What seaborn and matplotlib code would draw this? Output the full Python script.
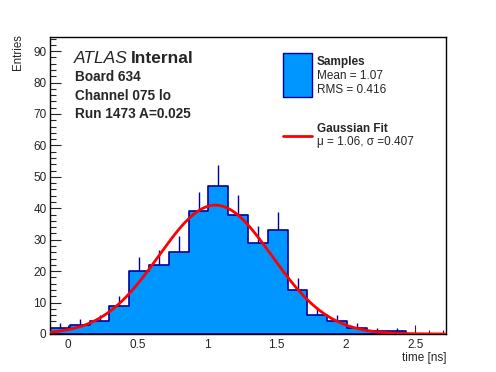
import numpy as np
import pandas as pd
import matplotlib
matplotlib.use('Agg')
import matplotlib.pyplot as plt
import seaborn as sns
from matplotlib.patches import Rectangle
from matplotlib.lines import Line2D
from matplotlib.ticker import MultipleLocator

sns.set_style('ticks')
plt.rcParams['font.family'] = ['Liberation Sans', 'DejaVu Sans']

# histogram: 20 bins between -0.13 and 2.72 ns
x_lo, x_hi, n_bins = -0.13, 2.72, 20
counts = [2, 3, 4, 9, 20, 22, 26, 39, 47, 38, 29, 33, 14, 6, 4, 2, 1, 1, 0, 0]
# gaussian fit parameters
fit_amp = 41.0
fit_mu = 1.06
fit_sigma = 0.407

fill_col = '#0096ff'
edge_col = '#000099'

W, H = 496, 372
fig = plt.figure(figsize=(W / 100, H / 100), dpi=100)
ax = fig.add_axes([50 / W, 1 - 334 / H, 396 / W, 297 / H])

bin_edges = np.linspace(x_lo, x_hi, n_bins + 1)
centers = 0.5 * (bin_edges[:-1] + bin_edges[1:])
counts = np.array(counts, dtype=float)
df = pd.DataFrame({'time': centers, 'n': counts})

# poisson errors, drawn under the filled histogram like ROOT "E" + "HIST"
err = np.sqrt(counts)
nz = counts > 0
ax.vlines(centers[nz], (counts - err)[nz], (counts + err)[nz], color=edge_col, lw=1.0, zorder=1)

sns.histplot(data=df, x='time', weights='n', bins=n_bins, binrange=(x_lo, x_hi),
             element='step', fill=True, color=fill_col, edgecolor=edge_col, alpha=1,
             linewidth=1.2, ax=ax, zorder=2)

xs = np.linspace(x_lo, x_hi, 400)
ys = fit_amp * np.exp(-0.5 * ((xs - fit_mu) / fit_sigma) ** 2)
sns.lineplot(x=xs, y=ys, color='red', linewidth=2, ax=ax, zorder=3)

ax.set_xlim(x_lo, x_hi)
ax.set_ylim(0, 94.5)
ax.set_xlabel('')
ax.set_ylabel('')
ax.xaxis.set_major_locator(MultipleLocator(0.5))
ax.xaxis.set_minor_locator(MultipleLocator(0.1))
ax.yaxis.set_major_locator(MultipleLocator(10))
ax.yaxis.set_minor_locator(MultipleLocator(2))
ax.set_xticks([0, 0.5, 1, 1.5, 2, 2.5])
ax.set_xticklabels(['0', '0.5', '1', '1.5', '2', '2.5'])
ax.tick_params(axis='x', which='major', direction='in', length=6.5, width=0.8, labelsize=8.5, pad=3.5)
ax.tick_params(axis='x', which='minor', direction='in', length=3.2, width=0.8)
ax.tick_params(axis='y', which='major', direction='in', length=8, width=0.8, labelsize=8.5, pad=2.5)
ax.tick_params(axis='y', which='minor', direction='in', length=4, width=0.8)
for s in ax.spines.values():
    s.set_visible(True)
    s.set_linewidth(1.0)
    s.set_color('black')


def fx(px):
    return px / W


def fy(py):
    return 1 - py / H


fig.text(fx(446), fy(357.5), 'time [ns]', ha='right', va='center', fontsize=8.5)
fig.text(fx(18), fy(34), 'Entries', ha='center', va='top', rotation=90, fontsize=8.3)

fig.text(fx(74), fy(63), 'ATLAS', style='italic', fontsize=12.5, va='baseline')
fig.text(fx(131), fy(63), 'Internal', weight='bold', fontsize=12.5, va='baseline')
fig.text(fx(75), fy(81), 'Board 634', weight='bold', fontsize=9.8, va='baseline')
fig.text(fx(75), fy(99.5), 'Channel 075 lo', weight='bold', fontsize=9.8, va='baseline')
fig.text(fx(75), fy(118), 'Run 1473 A=0.025', weight='bold', fontsize=9.8, va='baseline')

# legend drawn by hand, ROOT style
fig.patches.append(Rectangle((fx(283), fy(97)), fx(312) - fx(283), fy(53) - fy(97),
                             transform=fig.transFigure, facecolor=fill_col,
                             edgecolor=edge_col, linewidth=1.0))
fig.text(fx(317), fy(65), 'Samples', weight='bold', fontsize=8.5, va='baseline')
fig.text(fx(317), fy(79), 'Mean = 1.07', fontsize=8.5, va='baseline')
fig.text(fx(317), fy(93), 'RMS = 0.416', fontsize=8.5, va='baseline')
fig.lines.append(Line2D([fx(283), fx(312)], [fy(136), fy(136)], transform=fig.transFigure,
                        color='red', linewidth=2))
fig.text(fx(317), fy(132.5), 'Gaussian Fit', weight='bold', fontsize=8.5, va='baseline')
fig.text(fx(317), fy(145.5), 'μ = 1.06, σ =0.407', fontsize=8.5, va='baseline')

fig.savefig('out.png', dpi=100)
